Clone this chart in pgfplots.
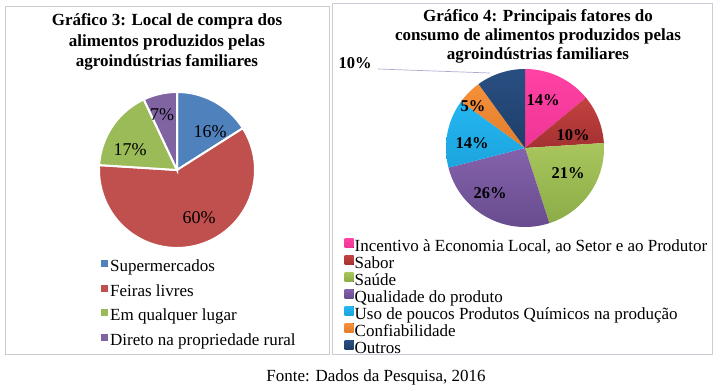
\documentclass[border=0pt]{standalone}
\usepackage{fontspec}
\setmainfont{Liberation Serif}
\usepackage{pgfplots}
\pgfplotsset{compat=1.18}

\definecolor{cSup}{HTML}{4F81BD}
\definecolor{cFei}{HTML}{C0504D}
\definecolor{cEmq}{HTML}{9BBB59}
\definecolor{cDir}{HTML}{8064A2}

\definecolor{pinkT}{HTML}{FF42A3}\definecolor{pinkB}{HTML}{EE3596}
\definecolor{redT}{HTML}{C44240}\definecolor{redB}{HTML}{A33131}
\definecolor{grnT}{HTML}{A8C65C}\definecolor{grnB}{HTML}{8CAC48}
\definecolor{purT}{HTML}{8562AC}\definecolor{purB}{HTML}{684C8E}
\definecolor{cynT}{HTML}{24B6F1}\definecolor{cynB}{HTML}{1CA4DE}
\definecolor{orgT}{HTML}{F5913A}\definecolor{orgB}{HTML}{E27E2C}
\definecolor{navT}{HTML}{294F82}\definecolor{navB}{HTML}{1D3E69}

% #1 cumulative start (%), #2 share (%), #3 radius, #4 style
\newcommand\pieslice[4]{%
  \addplot[#4, domain=90-3.6*(#1+#2):90-3.6*(#1), samples=60, variable=\t]
    ({#3*cos(\t)},{#3*sin(\t)}) -- (axis cs:0,0) -- cycle;
}

\begin{document}
\begin{tikzpicture}[x=1pt,y=-1pt]
\path (0pt,0pt) rectangle (717pt,-390pt);

% ---------- Left chart ----------
\begin{axis}[
  at={(5pt,-354pt)}, anchor=south west,
  x=1pt, y=1pt, xmin=-172, xmax=152, ymin=-184, ymax=164,
  xtick=\empty, ytick=\empty, clip=false,
  axis line style={draw=black!20, line width=0.8pt},
  legend cell align=left,
  legend style={at={(0.287,0.281)}, anchor=north west, draw=none, fill=none,
    font=\fontsize{17}{17}\selectfont, row sep=5.7pt,
    nodes={inner ysep=2pt, inner xsep=2pt, text height=11pt, text depth=4pt}},
  legend image code/.code={\fill[#1, draw=none] (0pt,1pt) rectangle (7pt,8pt);},
]
\pieslice{0}{16}{78}{fill=cSup, draw=white, line width=2pt}
\addlegendentry{Supermercados}
\pieslice{16}{60}{78}{fill=cFei, draw=white, line width=2pt}
\addlegendentry{Feiras livres}
\pieslice{76}{17}{78}{fill=cEmq, draw=white, line width=2pt}
\addlegendentry{Em qualquer lugar}
\pieslice{93}{7}{78}{fill=cDir, draw=white, line width=2pt}
\addlegendentry{Direto na propriedade rural}
\end{axis}

% ---------- Right chart ----------
\begin{axis}[
  at={(332pt,-354pt)}, anchor=south west,
  x=1pt, y=1pt, xmin=-193, xmax=187, ymin=-206, ymax=145,
  xtick=\empty, ytick=\empty, clip=false,
  axis line style={draw=blue!25!black!20, line width=0.8pt},
  legend cell align=left,
  legend style={at={(0.025,0.335)}, anchor=north west, draw=none, fill=none,
    font=\fontsize{17}{17}\selectfont, row sep=-0.8pt,
    nodes={inner ysep=0.5pt, inner xsep=1pt, text height=11.5pt, text depth=4pt}},
  legend image code/.code={\fill[#1, draw=none] (0pt,0.5pt) rectangle (9pt,9.5pt);},
]
\pieslice{0}{14}{79}{top color=pinkT, bottom color=pinkB, draw=none}
\addlegendentry{Incentivo à Economia Local, ao Setor e ao Produtor}
\pieslice{14}{10}{79}{top color=redT, bottom color=redB, draw=none}
\addlegendentry{Sabor}
\pieslice{24}{21}{79}{top color=grnT, bottom color=grnB, draw=none}
\addlegendentry{Saúde}
\pieslice{45}{26}{79}{top color=purT, bottom color=purB, draw=none}
\addlegendentry{Qualidade do produto}
\pieslice{71}{14}{79}{top color=cynT, bottom color=cynB, draw=none}
\addlegendentry{Uso de poucos Produtos Químicos na produção}
\pieslice{85}{5}{79}{top color=orgT, bottom color=orgB, draw=none}
\addlegendentry{Confiabilidade}
\pieslice{90}{10}{79}{top color=navT, bottom color=navB, draw=none}
\addlegendentry{Outros}
\end{axis}

% ---------- Titles ----------
\node[align=center, font=\bfseries\fontsize{17}{20.5}\selectfont] at (167pt,-42pt)
  {Gráfico 3: Local de compra dos\\alimentos produzidos pelas\\agroindústrias familiares};
\node[align=center, font=\bfseries\fontsize{17}{19}\selectfont] at (538pt,-36pt)
  {Gráfico 4: Principais fatores do\\consumo de alimentos produzidos pelas\\agroindústrias familiares};

% ---------- Slice labels ----------
\begin{scope}[every node/.style={font=\fontsize{18}{18}\selectfont}]
\node at (210pt,-132pt) {16\%};
\node at (199pt,-218pt) {60\%};
\node at (130pt,-150pt) {17\%};
\node at (162pt,-115pt) {7\%};
\end{scope}
\begin{scope}[every node/.style={font=\bfseries\fontsize{16.5}{16.5}\selectfont}]
\node at (543pt,-100pt) {14\%};
\node at (573pt,-135pt) {10\%};
\node at (568pt,-173pt) {21\%};
\node at (490pt,-193pt) {26\%};
\node at (472pt,-143pt) {14\%};
\node at (473pt,-106pt) {5\%};
\node at (355pt,-63pt) {10\%};
\end{scope}
\draw[color=blue!30!gray!50, line width=0.7pt] (378pt,-69pt) -- (490pt,-73pt);

% ---------- Source ----------
\node[font=\fontsize{17}{17}\selectfont] at (376pt,-377pt) {Fonte: Dados da Pesquisa, 2016};
\end{tikzpicture}
\end{document}
